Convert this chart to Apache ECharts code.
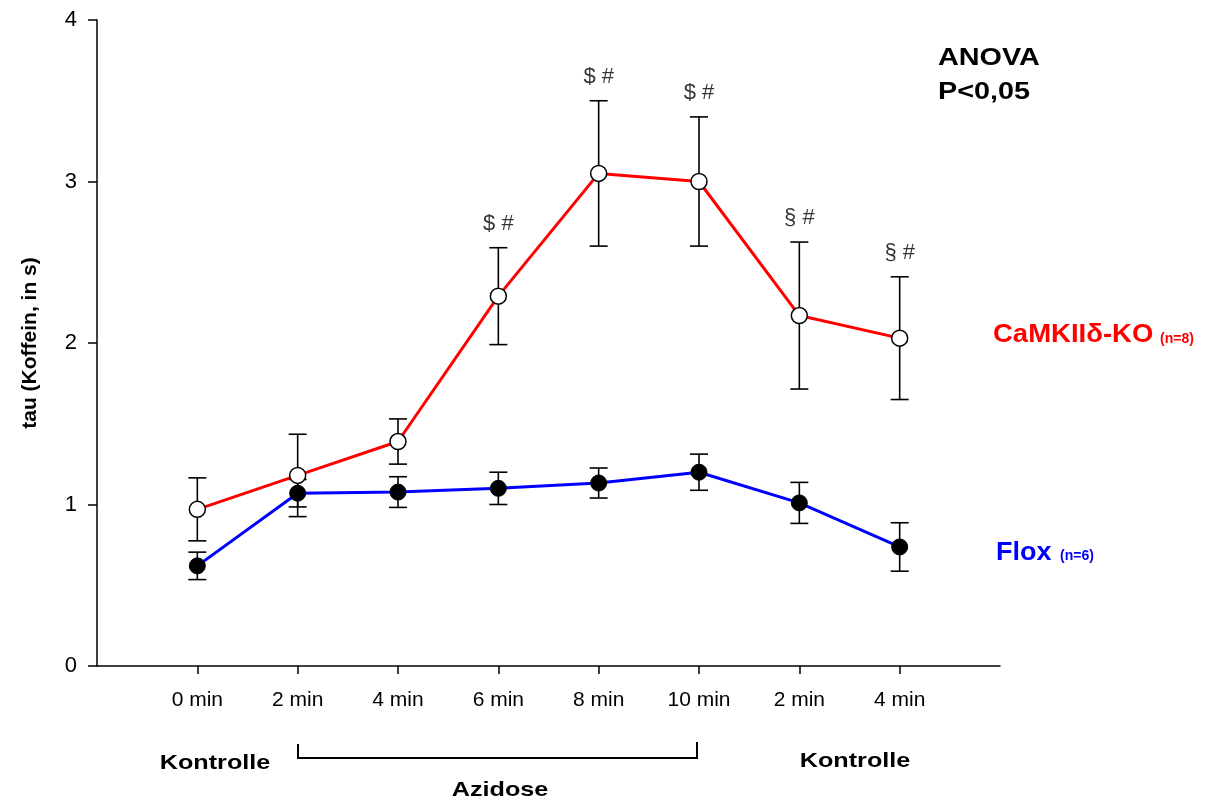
<!DOCTYPE html>
<html>
<head>
<meta charset="utf-8">
<script src="https://cdn.jsdelivr.net/npm/echarts@6/dist/echarts.min.js"></script>
<style>html,body{margin:0;padding:0;background:#fff}#c{width:1210px;height:803px}</style>
</head>
<body>
<div id="c"></div>
<script>
var xLabels = ['0 min', '2 min', '4 min', '6 min', '8 min', '10 min', '2 min', '4 min'];
var yTicks = [0, 1, 2, 3, 4];
var koMean = [0.97, 1.18, 1.39, 2.29, 3.05, 3.00, 2.17, 2.03];
var koSem = [0.195, 0.255, 0.14, 0.30, 0.45, 0.40, 0.455, 0.38];
var floxMean = [0.62, 1.07, 1.077, 1.10, 1.133, 1.20, 1.01, 0.737];
var floxSem = [0.085, 0.085, 0.095, 0.10, 0.093, 0.112, 0.127, 0.15];
var annot = ['', '', '', '$ #', '$ #', '$ #', '\u00a7 #', '\u00a7 #'];

var FONT = 'Liberation Sans, Arial, sans-serif';
function pts(m) { return m.map(function (v, i) { return [i, v]; }); }
function errData(m, s) { return m.map(function (v, i) { return [i, v - s[i], v + s[i]]; }); }
function errRender(params, api) {
  var lo = api.coord([api.value(0), api.value(1)]);
  var hi = api.coord([api.value(0), api.value(2)]);
  var hw = 9;
  var st = { stroke: '#000', lineWidth: 1.6 };
  return { type: 'group', children: [
    { type: 'line', shape: { x1: lo[0], y1: lo[1], x2: hi[0], y2: hi[1] }, style: st },
    { type: 'line', shape: { x1: lo[0] - hw, y1: lo[1], x2: lo[0] + hw, y2: lo[1] }, style: st },
    { type: 'line', shape: { x1: hi[0] - hw, y1: hi[1], x2: hi[0] + hw, y2: hi[1] }, style: st }
  ]};
}
var annotData = annot.map(function (t, i) { return t ? { value: [i, koMean[i] + koSem[i]], name: t } : null; }).filter(Boolean);

var chart = echarts.init(document.getElementById('c'), null, { renderer: 'canvas' });
chart.setOption({
  animation: false,
  backgroundColor: '#fff',
  grid: { left: 97, right: 210, top: 20, bottom: 137, containLabel: false },
  xAxis: {
    type: 'value', min: -1, max: 8, interval: 1,
    axisLine: { onZero: false, lineStyle: { color: '#000', width: 1.5 } },
    axisTick: { show: true, inside: false, length: 8, customValues: [0, 1, 2, 3, 4, 5, 6, 7], lineStyle: { color: '#000', width: 1.5 } },
    axisLabel: { customValues: [0, 1, 2, 3, 4, 5, 6, 7], margin: 24, color: '#000', fontFamily: FONT, fontSize: 21,
      formatter: function (v) { return xLabels[Math.round(v)] || ''; } },
    splitLine: { show: false }
  },
  yAxis: {
    type: 'value', min: yTicks[0], max: yTicks[yTicks.length - 1], interval: 1,
    name: 'tau (Koffein, in s)', nameLocation: 'middle', nameGap: 56, nameRotate: 90,
    nameTextStyle: { color: '#000', fontFamily: FONT, fontSize: 21, fontWeight: 'bold' },
    axisLine: { show: true, onZero: false, lineStyle: { color: '#000', width: 1.5 } },
    axisTick: { show: true, inside: false, length: 9, lineStyle: { color: '#000', width: 1.5 } },
    axisLabel: { margin: 20, color: '#000', fontFamily: FONT, fontSize: 22 },
    splitLine: { show: false }
  },
  series: [
    { type: 'custom', name: 'koErr', renderItem: errRender, data: errData(koMean, koSem), z: 1, encode: { x: 0, y: [1, 2] } },
    { type: 'custom', name: 'floxErr', renderItem: errRender, data: errData(floxMean, floxSem), z: 1, encode: { x: 0, y: [1, 2] } },
    { type: 'line', name: 'Flox', data: pts(floxMean), z: 2, symbol: 'circle', symbolSize: 16,
      lineStyle: { color: '#0000ff', width: 3 },
      itemStyle: { color: '#000', borderColor: '#000', borderWidth: 1 } },
    { type: 'line', name: 'CaMKII', data: pts(koMean), z: 3, symbol: 'circle', symbolSize: 16,
      lineStyle: { color: '#ff0000', width: 3 },
      itemStyle: { color: '#fff', borderColor: '#000', borderWidth: 1.5 } },
    { type: 'scatter', name: 'annot', data: annotData, symbolSize: 0, z: 4,
      label: { show: true, position: 'top', distance: 13, color: '#000', fontFamily: FONT, fontSize: 22,
        formatter: function (p) { return p.name; } } }
  ],
  graphic: [
    { type: 'text', x: 938, y: 58, scaleX: 1.2, style: { text: 'ANOVA', fill: '#000', font: 'bold 24px ' + FONT, textVerticalAlign: 'middle' } },
    { type: 'text', x: 938, y: 92, scaleX: 1.2, style: { text: 'P<0,05', fill: '#000', font: 'bold 24px ' + FONT, textVerticalAlign: 'middle' } },
    { type: 'text', x: 993, y: 335, scaleX: 1.1, style: { text: 'CaMKII\u03b4-KO', fill: '#ff0000', font: 'bold 25px ' + FONT, textVerticalAlign: 'middle' } },
    { type: 'text', x: 1160, y: 339, style: { text: '(n=8)', fill: '#ff0000', font: 'bold 14px ' + FONT, textVerticalAlign: 'middle' } },
    { type: 'text', x: 996, y: 553, scaleX: 1.08, style: { text: 'Flox', fill: '#0000ff', font: 'bold 25px ' + FONT, textVerticalAlign: 'middle' } },
    { type: 'text', x: 1060, y: 556, style: { text: '(n=6)', fill: '#0000ff', font: 'bold 14px ' + FONT, textVerticalAlign: 'middle' } },
    { type: 'text', x: 215, y: 763, scaleX: 1.2, style: { text: 'Kontrolle', fill: '#000', font: 'bold 21px ' + FONT, textAlign: 'center', textVerticalAlign: 'middle' } },
    { type: 'text', x: 855, y: 761, scaleX: 1.2, style: { text: 'Kontrolle', fill: '#000', font: 'bold 21px ' + FONT, textAlign: 'center', textVerticalAlign: 'middle' } },
    { type: 'text', x: 500, y: 790, scaleX: 1.2, style: { text: 'Azidose', fill: '#000', font: 'bold 21px ' + FONT, textAlign: 'center', textVerticalAlign: 'middle' } },
    { type: 'polyline', shape: { points: [[298, 744], [298, 758], [697, 758], [697, 742]] }, style: { stroke: '#000', lineWidth: 2, fill: null } }
  ]
});
</script>
</body>
</html>
